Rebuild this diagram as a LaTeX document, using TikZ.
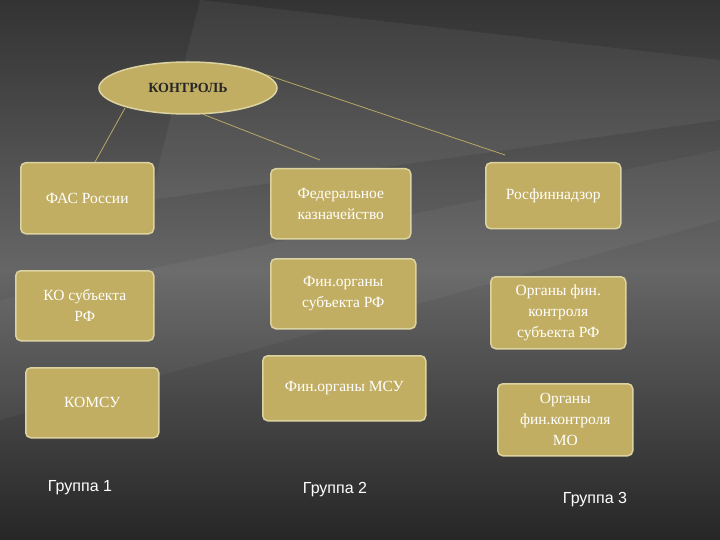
\documentclass[tikz,border=0pt]{standalone}
\usepackage{fontspec}
\setmainfont{Liberation Serif}
\newfontfamily\grp{Liberation Sans}
\usetikzlibrary{shapes.geometric}
\definecolor{bx}{HTML}{C2AE62}
\definecolor{bd}{HTML}{DCD3A0}
\definecolor{ln}{HTML}{B8A868}
\begin{document}
\begin{tikzpicture}[x=1pt,y=-1pt,
 box/.style={draw=bd,line width=1.5pt,fill=bx,rounded corners=5pt,text=white,align=center,font=\fontsize{15.5}{21}\selectfont,anchor=north west,inner sep=2pt},
 gl/.style={text=white,font=\grp\fontsize{16}{18}\selectfont},
 con/.style={draw=ln,line width=0.8pt}]
\shade[top color=black!80,bottom color=black!85,middle color=black!60] (0,0) rectangle (720,540);
\fill[white,opacity=0.05] (200,0) -- (720,60) -- (720,120) -- (150,200) -- cycle;
\fill[white,opacity=0.04] (0,300) -- (720,150) -- (720,220) -- (0,420) -- cycle;
\useasboundingbox (0,0) rectangle (720,540);
\node[ellipse,draw=bd,line width=1.5pt,fill=bx,minimum width=178pt,minimum height=52pt,text=black!85,font=\fontsize{14}{16}\selectfont\bfseries] (k) at (188,88) {КОНТРОЛЬ};
\node[box,minimum width=133pt,minimum height=71pt] (a1) at (20,162) {ФАС России};
\node[box,minimum width=140pt,minimum height=70pt] (b1) at (270,168) {Федеральное\\казначейство};
\node[box,minimum width=135pt,minimum height=66pt] (c1) at (485,162) {Росфиннадзор};
\node[box,minimum width=138pt,minimum height=70pt] (a2) at (15,270) {КО субъекта\\РФ};
\node[box,minimum width=145pt,minimum height=70pt] (b2) at (270,258) {Фин.органы\\субъекта РФ};
\node[box,minimum width=135pt,minimum height=72pt] (c2) at (490,276) {Органы фин.\\контроля\\субъекта РФ};
\node[box,minimum width=133pt,minimum height=70pt] (a3) at (25,367) {КОМСУ};
\node[box,minimum width=163pt,minimum height=65pt] (b3) at (262,355) {Фин.органы МСУ};
\node[box,minimum width=135pt,minimum height=72pt] (c3) at (497,383) {Органы\\фин.контроля\\МО};
\node[gl] (g1) at (80,488) {Группа 1};
\node[gl] (g2) at (335,490) {Группа 2};
\node[gl] (g3) at (595,500) {Группа 3};
\coordinate (s1) at (125,108);
\coordinate (e1) at (320,160);
\coordinate (e2) at (505,155);
\draw[con] (s1) -- ([xshift=75pt]a1.north west);
\draw[con] (k.300) -- (e1);
\draw[con] (k.10) -- (e2);
\end{tikzpicture}
\end{document}
